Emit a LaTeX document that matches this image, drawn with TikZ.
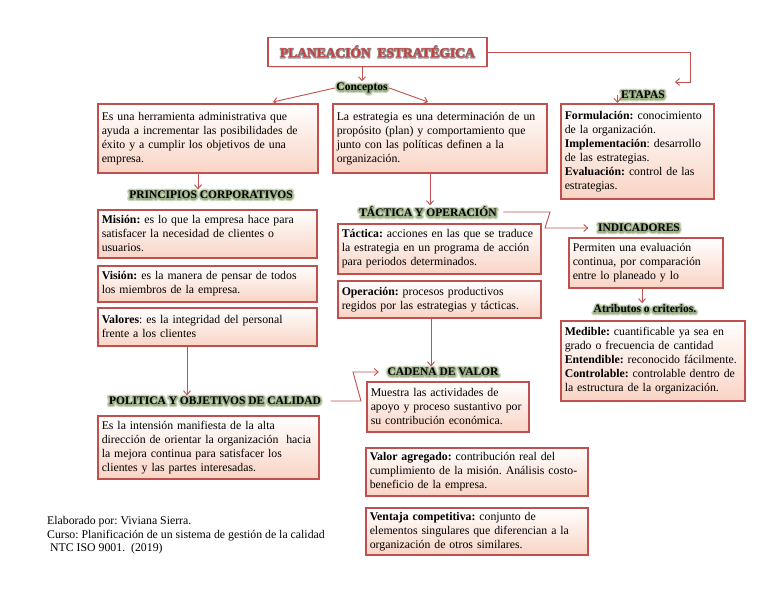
\documentclass[tikz,border=0pt]{standalone}
\usepackage{fontspec}
\setmainfont{Liberation Serif}
\usetikzlibrary{arrows.meta,shadows,calc}
\definecolor{bordc}{RGB}{192,80,77}
\definecolor{peach}{RGB}{249,212,197}
\definecolor{titlec}{RGB}{196,66,64}
\frenchspacing

% glow: stroked copies of the text (PDF text render mode 1) under the normal text
\newcommand\glowtxt[1]{\rlap{\special{pdf:literal direct 1 Tr 5 w 1 j 0.80 0.85 0.75 RG}#1\special{pdf:literal direct 0 Tr}}%
\rlap{\special{pdf:literal direct 1 Tr 2.6 w 1 j 0.62 0.69 0.54 RG}#1\special{pdf:literal direct 0 Tr}}#1}
\newcommand\shadtxt[1]{\rlap{\special{pdf:literal direct 1 Tr 1.8 w 1 j 0.58 0.58 0.58 RG}#1\special{pdf:literal direct 0 Tr}}#1}
\newcommand\mybox[6]{\pgfmathsetmacro\mytw{#4-8}%
\node[box, minimum width=#4pt, minimum height=#5pt, text width=\mytw pt] (#1) at (#2,#3) {#6};}

\begin{document}
\begin{tikzpicture}[x=1pt,y=-1pt,
 box/.style={draw=bordc, line width=1.5pt, top color=white, bottom color=peach, anchor=north west,
   align=left, inner xsep=4pt, inner ysep=0pt, font=\fontsize{11.8pt}{14pt}\selectfont,
   drop shadow={opacity=0.22, shadow xshift=1.2pt, shadow yshift=-1.2pt}},
 lab/.style={inner sep=1.5pt, font=\fontsize{11.5pt}{13pt}\selectfont\bfseries},
 arr/.style={draw=bordc, line width=0.9pt, -{Straight Barb[length=4pt,width=7pt]}},
 foot/.style={inner sep=0pt, align=left, anchor=north west, font=\fontsize{11.8pt}{13.8pt}\selectfont},
]
\useasboundingbox (0,0) rectangle (768,594);
\fill[white] (0,0) rectangle (768,594);

% title
\node[draw=bordc, line width=1.9pt, fill=white, minimum width=219pt, minimum height=29pt, inner sep=0pt,
  font=\fontsize{13.5pt}{15pt}\selectfont\bfseries, text=titlec,
  drop shadow={opacity=0.22, shadow xshift=1.2pt, shadow yshift=-1.2pt}]
  (title) at (377.5,52) {\shadtxt{PLANEACIÓN\ \ ESTRATÉGICA}};

% labels
\node[lab] (concept) at (362,88) {\glowtxt{Conceptos}};
\node[lab] (etapas) at (643,95) {\glowtxt{ETAPAS}};
\node[lab] (principios) at (211,195) {\glowtxt{PRINCIPIOS CORPORATIVOS}};
\node[lab] (politicaL) at (215,401) {\glowtxt{POLITICA Y OBJETIVOS DE CALIDAD}};
\node[lab] (tacticaL) at (428,212) {\glowtxt{TÁCTICA Y OPERACIÓN}};
\node[lab] (cadenaL) at (443,372) {\glowtxt{CADENA DE VALOR}};
\node[lab] (indicL) at (639,228) {\glowtxt{INDICADORES}};
\node[lab] (atribL) at (645,309) {\glowtxt{Atributos o criterios.}};

% boxes
\mybox{b1}{97}{103}{220}{69}{Es una herramienta administrativa que\\ ayuda a incrementar las posibilidades de\\ éxito y a cumplir los objetivos de una\\ empresa.}
\mybox{b2}{332}{103}{214}{69}{La estrategia es una determinación de un\\ propósito (plan) y comportamiento que\\ junto con las políticas definen a la\\ organización.}
\mybox{b3}{560}{103}{153}{95}{\textbf{Formulación:} conocimiento\\ de la organización.\\ \textbf{Implementación}: desarrollo\\ de las estrategias.\\ \textbf{Evaluación:} control de las\\ estrategias.}
\mybox{mision}{97}{209}{219}{48}{\textbf{Misión:} es lo que la empresa hace para\\ satisfacer la necesidad de clientes o\\ usuarios.}
\mybox{vision}{97}{265}{219}{36}{\textbf{Visión:} es la manera de pensar de todos\\ los miembros de la empresa.}
\mybox{valores}{97}{307}{219}{38}{\textbf{Valores}: es la integridad del personal\\ frente a los clientes}
\mybox{politica}{97}{415}{221}{63}{Es la intensión manifiesta de la alta\\ dirección de orientar la organización\ \ hacia\\ la mejora continua para satisfacer los\\ clientes y las partes interesadas.}
\mybox{tactica}{337}{223}{203}{50}{\textbf{Táctica:} acciones en las que se traduce\\ la estrategia en un programa de acción\\ para periodos determinados.}
\mybox{operacion}{337}{280}{203}{37}{\textbf{Operación:} procesos productivos\\ regidos por las estrategias y tácticas.}
\mybox{cadena}{366}{381}{162}{50}{Muestra las actividades de\\ apoyo y proceso sustantivo por\\ su contribución económica.}
\mybox{valor}{365}{447}{222}{48}{\textbf{Valor agregado:} contribución real del\\ cumplimiento de la misión. Análisis costo-\\ beneficio de la empresa.}
\mybox{ventaja}{365}{507}{222}{47}{\textbf{Ventaja competitiva:} conjunto de\\ elementos singulares que diferencian a la\\ organización de otros similares.}
\mybox{indic}{568}{237}{154}{50}{Permiten una evaluación\\ continua, por comparación\\ entre lo planeado y lo}
\mybox{atrib}{560}{320}{184}{80}{\textbf{Medible:} cuantificable ya sea en\\ grado o frecuencia de cantidad\\ \textbf{Entendible:} reconocido fácilmente.\\ \textbf{Controlable:} controlable dentro de\\ la estructura de la organización.}

% footer
\node[foot] (footer) at (47,516) {Elaborado por: Viviana Sierra.\\ Curso: Planificación de un sistema de gestión de la calidad\\ \hspace*{3pt}NTC ISO 9001.\ \ (2019)};

% connectors
\coordinate (pTR) at (690,52);
\coordinate (pTR2) at (690,82);
\coordinate (etIn) at (675,82);
\draw[arr] (title.east) -- (pTR) -- (pTR2) -- (etIn);
\draw[arr] (title.south -| concept.north) -- (concept.north);
\coordinate (c1) at (273,102);
\coordinate (c2) at (428,102);
\draw[arr] (concept.west) -- (c1);
\draw[arr] (concept.east) -- (c2);
\coordinate (ets) at ($(etapas.west)+(-2,0)$);
\draw[arr] (ets) -- (ets |- b3.north);
\coordinate (b1s) at ($(b1.south west)+(101,0)$);
\draw[arr] (b1s) -- (b1s |- principios.north);
\coordinate (vs) at ($(valores.south west)+(90,0)$);
\draw[arr] (vs) -- (vs |- politicaL.north);
\coordinate (pc) at (353,0);
\draw[arr] ([xshift=8pt]politicaL.east) -- ([xshift=8pt]politicaL.east -| pc) -- (pc |- cadenaL.west) -- ([xshift=-7pt]cadenaL.west);
\coordinate (b2s) at ($(b2.south west)+(98,0)$);
\draw[arr] (b2s) -- (b2s |- tacticaL.north);
\coordinate (tk) at (545,0);
\draw[arr] ([xshift=5pt]tacticaL.east) -- ([xshift=5pt]tacticaL.east -| tk) -- (tk |- indicL.west) -- ([xshift=-8pt]indicL.west);
\coordinate (os) at ($(operacion.south west)+(94,0)$);
\draw[arr] (os) -- (os |- cadenaL.north);
\coordinate (is) at ($(indic.south west)+(74,0)$);
\draw[arr] (is) -- (is |- atribL.north);
\end{tikzpicture}
\end{document}
